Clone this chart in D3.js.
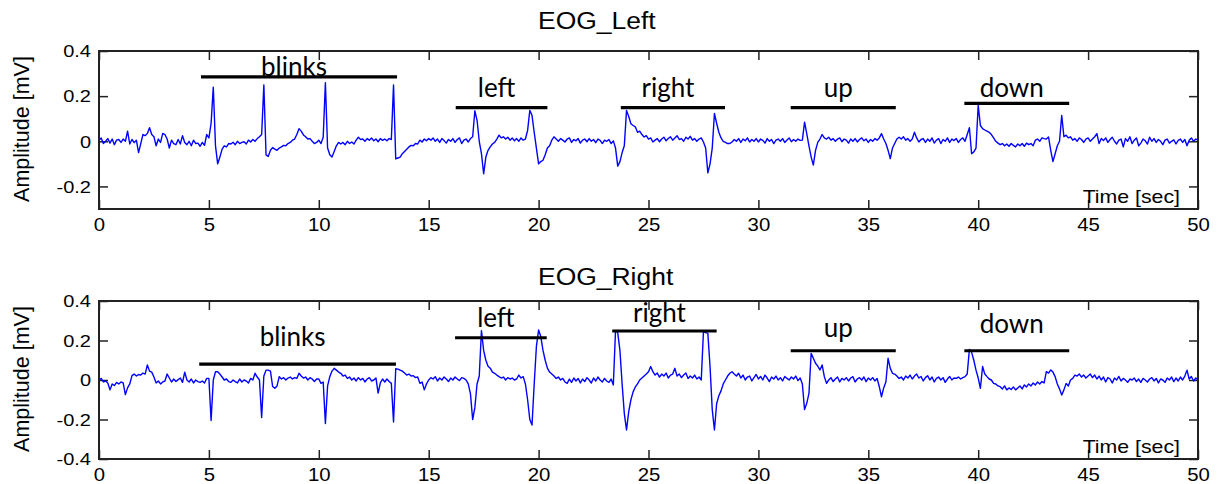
<!DOCTYPE html>
<html>
<head>
<meta charset="utf-8">
<script src="https://cdn.jsdelivr.net/npm/d3@7"></script>
<style>
  html, body { margin: 0; padding: 0; background: #fff; }
  svg { display: block; }
</style>
</head>
<body>
<svg id="chart" width="1219" height="484"></svg>
<script>
// Recording sampled every 0.1 s, 0–50 s (amplitudes in mV)
const sampleStep = 0.1;

const eogLeft = [
  0.005, 0.015, -0.01, 0.0, 0.012, -0.008, 0.01, -0.015, 0.005, 0.008,
  -0.005, 0.01, 0.0, 0.045, -0.012, 0.008, -0.006, 0.005, -0.05, -0.01,
  0.03, 0.025, 0.035, 0.06, 0.03, 0.02, -0.02, 0.01, -0.005, 0.035,
  0.03, 0.01, -0.03, 0.005, -0.01, -0.015, 0.008, -0.012, 0.025, -0.005,
  -0.015, 0.0, -0.02, 0.005, -0.01, -0.008, -0.022, -0.005, -0.018, 0.03,
  0.015, 0.08, 0.24, -0.02, -0.10, -0.07, -0.035, -0.02, -0.025, -0.01,
  -0.012, -0.004, -0.015, 0.0, -0.01, -0.005, -0.002, -0.012, 0.005, -0.003,
  0.008, 0.0, 0.012, 0.02, 0.03, 0.25, -0.06, -0.067, -0.04, -0.028,
  -0.035, -0.04, -0.03, -0.025, -0.018, -0.02, -0.01, -0.005, 0.005, 0.01,
  0.03, 0.056, 0.045, 0.028, 0.02, 0.01, 0.012, 0.0, -0.01, -0.005,
  0.005, -0.01, 0.018, 0.26, -0.03, -0.06, -0.07, -0.045, -0.02, -0.005,
  -0.012, -0.005, -0.015, 0.0, -0.01, -0.003, -0.012, 0.005, 0.018, 0.008,
  0.01, 0.0, 0.012, 0.005, 0.015, 0.002, 0.01, -0.002, 0.012, 0.004,
  0.01, 0.002, 0.012, 0.008, 0.25, -0.078, -0.074, -0.07, -0.055, -0.045,
  -0.035, -0.025, -0.018, -0.02, -0.01, -0.012, 0.005, -0.003, 0.01, 0.002,
  0.012, 0.005, 0.015, 0.0, 0.01, -0.005, 0.012, 0.003, -0.008, 0.008,
  0.0, 0.012, -0.005, 0.008, 0.015, -0.01, 0.005, 0.01, -0.003, 0.012,
  0.02, 0.135, 0.093, 0.0, -0.055, -0.144, -0.07, -0.04, -0.025, -0.012,
  -0.005, 0.01, 0.027, 0.015, 0.02, 0.01, 0.018, 0.005, 0.015, 0.002,
  0.012, 0.0, 0.015, 0.005, 0.01, 0.048, 0.137, 0.115, 0.04, -0.03,
  -0.1, -0.09, -0.084, -0.06, -0.03, -0.02, 0.005, 0.02, 0.01, 0.0,
  0.012, 0.005, -0.003, 0.01, 0.015, -0.005, 0.008, 0.002, 0.012, -0.008,
  0.005, 0.01, -0.002, 0.012, 0.0, 0.008, -0.006, 0.01, 0.004, -0.01,
  0.005, 0.0, 0.008, -0.01, 0.002, -0.03, -0.11, -0.09, -0.05, -0.02,
  0.137, 0.11, 0.078, 0.07, 0.064, 0.04, 0.045, 0.03, 0.019, 0.025,
  0.01, 0.015, -0.003, 0.005, 0.012, -0.002, 0.01, 0.018, 0.002, 0.012,
  0.02, 0.005, 0.015, 0.025, 0.008, 0.012, 0.0, 0.018, 0.01, 0.022,
  0.005, 0.012, 0.0, 0.01, 0.015, -0.003, -0.03, -0.14, -0.1, -0.03,
  0.123, 0.08, 0.04, 0.015, 0.0, -0.005, -0.01, -0.01, -0.003, 0.008,
  0.0, 0.012, -0.005, 0.01, 0.002, 0.015, -0.003, 0.008, 0.0, 0.012,
  -0.003, 0.01, 0.004, -0.008, 0.012, 0.0, 0.008, -0.01, 0.005, 0.01,
  0.0, 0.012, -0.005, 0.006, 0.015, -0.002, 0.008, 0.0, 0.01, 0.004,
  0.005, 0.085, 0.034, -0.02, -0.07, -0.105, -0.04, -0.005, 0.01, 0.03,
  0.015, 0.01, 0.018, 0.005, 0.012, 0.0, 0.01, 0.015, -0.002, 0.01,
  0.005, -0.008, 0.01, 0.0, 0.012, -0.003, 0.008, 0.015, 0.002, 0.01,
  -0.005, 0.008, 0.0, 0.012, 0.005, 0.015, 0.034, 0.01, -0.01, -0.04,
  -0.077, -0.03, -0.01, 0.01, 0.018, 0.01, 0.02, 0.005, 0.012, 0.0,
  0.01, 0.04, 0.015, -0.003, 0.008, 0.012, -0.005, 0.01, 0.0, 0.015,
  -0.008, 0.005, 0.012, -0.01, 0.008, 0.0, 0.015, -0.005, 0.01, 0.003,
  0.012, -0.005, 0.008, 0.015, 0.0, 0.03, 0.06, -0.055, -0.047, -0.03,
  0.16, 0.07, 0.056, 0.05, 0.045, 0.04, 0.03, 0.015, 0.0, -0.008,
  -0.015, -0.01, -0.02, -0.012, -0.022, -0.01, -0.018, -0.025, -0.012, -0.02,
  -0.01, -0.022, -0.008, -0.015, -0.01, -0.02, 0.005, 0.01, 0.0, 0.015,
  0.012, 0.01, 0.019, -0.04, -0.09, -0.055, -0.02, 0.0, 0.115, 0.02,
  0.027, 0.015, 0.02, 0.005, 0.012, 0.0, 0.015, 0.008, -0.005, 0.01,
  0.015, 0.0, 0.01, 0.02, 0.034, -0.01, 0.012, 0.003, 0.015, -0.005,
  0.008, 0.018, 0.0, -0.012, 0.005, 0.01, -0.025, 0.012, 0.0, 0.02,
  -0.01, 0.005, 0.015, -0.02, -0.008, 0.01, 0.002, -0.012, 0.018, 0.0,
  0.012, -0.005, 0.008, 0.0, -0.015, 0.005, 0.01, -0.008, 0.0, 0.006,
  -0.012, 0.004, 0.01, -0.005, 0.008, -0.02, 0.005, 0.015, 0.0, 0.01,
  0.005
];

const eogRight = [
  0.0, 0.008, -0.01, -0.005, -0.015, -0.05, -0.02, -0.028, -0.012, -0.02,
  -0.01, -0.015, -0.074, -0.04, -0.02, 0.022, 0.03, 0.02, 0.028, 0.025,
  0.035, 0.03, 0.076, 0.045, 0.04, 0.015, -0.015, -0.005, -0.02, -0.01,
  -0.005, 0.03, 0.01, -0.01, 0.005, -0.008, 0.002, 0.01, -0.012, 0.04,
  0.0, -0.01, 0.005, -0.015, 0.0, -0.008, -0.012, -0.005, -0.015, 0.008,
  0.008, -0.205, 0.0, 0.042, 0.042, 0.03, 0.015, 0.0, 0.005, -0.008,
  -0.012, 0.0, -0.008, -0.015, 0.005, -0.01, 0.0, -0.005, -0.015, 0.008,
  0.0, 0.034, 0.015, 0.0, -0.19, 0.02, 0.05, 0.05, 0.045, -0.033,
  -0.042, -0.03, 0.017, 0.005, 0.012, 0.0, 0.01, 0.015, 0.005, 0.012,
  0.008, 0.034, 0.02, 0.01, 0.015, 0.0, 0.012, 0.005, -0.008, 0.005,
  0.005, -0.017, -0.01, -0.22, -0.03, 0.017, 0.045, 0.059, 0.05, 0.04,
  0.034, 0.02, 0.025, 0.008, 0.015, 0.0, 0.01, -0.005, 0.012, 0.0,
  0.008, -0.01, 0.005, 0.012, -0.005, 0.0, 0.01, -0.066, -0.015, 0.005,
  -0.01, 0.005, -0.008, -0.017, -0.213, 0.057, 0.055, 0.05, 0.045, 0.035,
  0.025, 0.03, 0.02, 0.022, 0.012, 0.015, -0.017, -0.01, -0.05, -0.02,
  0.0, 0.012, 0.005, 0.017, -0.005, 0.01, 0.0, 0.015, 0.005, -0.008,
  0.01, 0.0, 0.015, 0.005, -0.003, 0.012, 0.008, 0.0, -0.02, -0.07,
  -0.2, -0.14, -0.02, 0.02, 0.25, 0.15, 0.1, 0.07, 0.06, 0.04,
  0.034, 0.025, 0.017, 0.01, 0.015, 0.0, 0.012, 0.005, 0.01, 0.0,
  0.005, 0.025, 0.01, 0.017, -0.02, -0.1, -0.2, -0.228, -0.02, 0.17,
  0.253, 0.22, 0.15, 0.1, 0.06, 0.04, 0.03, 0.02, 0.008, 0.015,
  0.0, 0.008, -0.01, -0.017, 0.005, -0.012, 0.01, -0.005, 0.008, -0.015,
  0.005, -0.008, 0.012, 0.0, -0.015, 0.01, -0.005, 0.015, 0.0, -0.01,
  0.008, -0.005, -0.012, 0.005, -0.025, 0.25, 0.24, 0.15, -0.02, -0.17,
  -0.253, -0.16, -0.1, -0.06, -0.035, -0.02, 0.0, 0.01, 0.02, 0.03,
  0.042, 0.068, 0.042, 0.025, 0.035, 0.015, 0.03, 0.02, 0.035, 0.01,
  0.025, 0.03, 0.059, 0.02, 0.03, 0.012, 0.025, 0.035, 0.008, 0.02,
  0.01, 0.025, 0.005, 0.015, 0.0, 0.245, 0.24, 0.236, 0.068, -0.15,
  -0.253, -0.12, -0.08, -0.055, -0.02, 0.0, 0.02, 0.034, 0.042, 0.03,
  0.02, 0.034, 0.01, 0.025, 0.0, 0.015, 0.02, -0.005, 0.012, 0.028,
  0.005, 0.018, 0.0, 0.025, 0.01, -0.008, 0.015, 0.005, 0.02, 0.0,
  0.012, -0.005, 0.018, 0.008, 0.0, 0.015, 0.005, 0.02, -0.003, 0.01,
  -0.02, -0.15, -0.118, -0.068, 0.135, 0.11, 0.085, 0.07, 0.051, 0.076,
  0.017, -0.017, 0.0, 0.012, -0.008, 0.005, 0.015, -0.01, 0.008, 0.0,
  0.012, -0.005, 0.01, 0.017, -0.01, 0.005, 0.012, 0.0, 0.015, -0.008,
  0.01, 0.0, 0.012, -0.005, 0.008, -0.034, -0.085, -0.04, -0.01, 0.11,
  0.059, 0.034, 0.03, 0.02, 0.008, 0.015, 0.0, 0.02, 0.01, 0.025,
  0.005, 0.02, 0.03, 0.01, 0.018, -0.005, 0.012, 0.022, 0.0, 0.015,
  -0.01, 0.008, 0.015, 0.0, 0.012, -0.012, 0.005, 0.018, 0.0, 0.01,
  0.008, 0.015, 0.005, 0.012, 0.017, 0.03, 0.155, 0.14, 0.1, 0.05,
  0.01, -0.042, 0.068, 0.03, 0.017, 0.005, 0.0, -0.017, -0.02, -0.03,
  -0.034, -0.045, -0.03, -0.05, -0.04, -0.048, -0.035, -0.05, -0.04, -0.03,
  -0.045, -0.025, -0.035, -0.02, -0.03, -0.015, -0.025, -0.01, -0.02, -0.008,
  -0.015, 0.042, 0.035, 0.051, 0.04, 0.017, -0.02, -0.045, -0.076, -0.05,
  -0.017, -0.03, 0.0, 0.008, 0.025, 0.02, 0.03, 0.015, 0.025, 0.01,
  0.02, 0.03, 0.012, 0.025, 0.005, 0.02, 0.0, 0.015, -0.01, 0.012,
  0.005, -0.015, 0.01, 0.0, 0.018, -0.005, 0.008, 0.0, -0.012, 0.005,
  0.0, 0.01, -0.008, 0.005, -0.012, 0.008, 0.0, -0.01, 0.005, 0.012,
  -0.005, 0.008, -0.015, 0.005, 0.0, -0.012, 0.01, 0.0, 0.015, -0.008,
  0.01, -0.005, 0.015, 0.0, 0.02, 0.05, 0.005, 0.018, -0.005, 0.01,
  0.0
];

// Axis settings
const timeDomain = [0, 50];
const timeTicks = [0, 5, 10, 15, 20, 25, 30, 35, 40, 45, 50];
const leftAmpDomain = [-0.3, 0.4];
const leftAmpTicks = [-0.2, 0, 0.2, 0.4];
const rightAmpDomain = [-0.4, 0.4];
const rightAmpTicks = [-0.4, -0.2, 0, 0.2, 0.4];

// Eye-movement task periods (seconds) and where their markers sit (mV)
const eventNames = ["blinks", "left", "right", "up", "down"];
const leftEventStart = [4.64, 16.23, 23.74, 31.47, 39.37];
const leftEventEnd = [13.56, 20.40, 28.48, 36.25, 44.14];
const leftEventLevel = [0.285, 0.149, 0.149, 0.149, 0.168];
const leftLabelLevel = [0.288, 0.196, 0.196, 0.196, 0.196];
const rightEventStart = [4.56, 16.20, 23.35, 31.47, 39.37];
const rightEventEnd = [13.51, 20.37, 28.10, 36.25, 44.14];
const rightEventLevel = [0.08, 0.214, 0.248, 0.148, 0.148];
const rightLabelLevel = [0.172, 0.27, 0.295, 0.219, 0.24];

const panels = [
  { title: "EOG_Left", values: eogLeft, domain: leftAmpDomain, ticks: leftAmpTicks,
    top: 51, bottom: 209, titleY: 29,
    start: leftEventStart, end: leftEventEnd, level: leftEventLevel, labelLevel: leftLabelLevel },
  { title: "EOG_Right", values: eogRight, domain: rightAmpDomain, ticks: rightAmpTicks,
    top: 301, bottom: 459, titleY: 285,
    start: rightEventStart, end: rightEventEnd, level: rightEventLevel, labelLevel: rightLabelLevel }
];

const plotLeft = 99, plotRight = 1198;
const ink = "#222";
const svg = d3.select("#chart");

// widen text horizontally by a factor
function stretch(sel, factor) {
  sel.each(function () {
    const w = this.getComputedTextLength();
    d3.select(this).attr("textLength", w * factor).attr("lengthAdjust", "spacingAndGlyphs");
  });
}

const fmt = d => (d === 0 ? "0" : String(d));

panels.forEach((p, idx) => {
  const x = d3.scaleLinear().domain(timeDomain).range([plotLeft, plotRight]);
  const y = d3.scaleLinear().domain(p.domain).range([p.bottom, p.top]);
  const g = svg.append("g");

  // plot background
  g.append("rect")
    .attr("x", plotLeft).attr("y", p.top)
    .attr("width", plotRight - plotLeft).attr("height", p.bottom - p.top)
    .attr("fill", "#fff");

  // axes with inward ticks on all four sides
  const styleAxis = a => {
    a.select(".domain").remove();
    a.selectAll(".tick line").attr("stroke", ink).attr("stroke-width", 1.5);
    a.selectAll(".tick text").attr("fill", "#000").attr("font-family", "'Liberation Sans', Arial, sans-serif");
  };

  const xb = g.append("g").attr("transform", `translate(0,${p.bottom})`)
    .call(d3.axisBottom(x).tickValues(timeTicks).tickSize(-9).tickPadding(9).tickFormat(fmt));
  styleAxis(xb);
  xb.selectAll(".tick text").attr("font-size", 18.5);
  stretch(xb.selectAll(".tick text"), 1.1);

  const xt = g.append("g").attr("transform", `translate(0,${p.top})`)
    .call(d3.axisTop(x).tickValues(timeTicks).tickSize(-9).tickFormat(""));
  styleAxis(xt);

  const yl = g.append("g").attr("transform", `translate(${plotLeft},0)`)
    .call(d3.axisLeft(y).tickValues(p.ticks).tickSize(-9).tickPadding(8).tickFormat(fmt));
  styleAxis(yl);
  yl.selectAll(".tick text").attr("font-size", 16).attr("dy", "0.36em");
  stretch(yl.selectAll(".tick text"), 1.25);

  const yr = g.append("g").attr("transform", `translate(${plotRight},0)`)
    .call(d3.axisRight(y).tickValues(p.ticks).tickSize(-9).tickFormat(""));
  styleAxis(yr);

  // signal trace
  const clipId = "clip" + idx;
  svg.append("clipPath").attr("id", clipId).append("rect")
    .attr("x", plotLeft).attr("y", p.top)
    .attr("width", plotRight - plotLeft).attr("height", p.bottom - p.top);

  const line = d3.line()
    .x((d, i) => x(i * sampleStep))
    .y(d => y(d));

  g.append("path")
    .datum(p.values)
    .attr("clip-path", `url(#${clipId})`)
    .attr("fill", "none")
    .attr("stroke", "#0000ff")
    .attr("stroke-width", 1.4)
    .attr("stroke-linejoin", "round")
    .attr("d", line);

  // frame
  g.append("rect")
    .attr("x", plotLeft).attr("y", p.top)
    .attr("width", plotRight - plotLeft).attr("height", p.bottom - p.top)
    .attr("fill", "none").attr("stroke", ink).attr("stroke-width", 2);

  // task period markers
  const events = eventNames.map((name, i) => ({
    name, start: p.start[i], end: p.end[i], level: p.level[i], labelLevel: p.labelLevel[i]
  }));

  g.selectAll(".bar").data(events).join("line")
    .attr("x1", d => x(d.start)).attr("x2", d => x(d.end))
    .attr("y1", d => y(d.level)).attr("y2", d => y(d.level))
    .attr("stroke", "#000").attr("stroke-width", 3.2);

  g.selectAll(".evlabel").data(events).join("text")
    .attr("x", d => (x(d.start) + x(d.end)) / 2 - 5)
    .attr("y", d => y(d.labelLevel))
    .attr("text-anchor", "middle")
    .attr("font-family", "Lato, 'Open Sans', sans-serif")
    .attr("font-size", 26)
    .attr("fill", "#000")
    .text(d => d.name);

  // panel title
  const title = g.append("text")
    .attr("x", 538).attr("y", p.titleY)
    .attr("font-family", "'Liberation Sans', Arial, sans-serif")
    .attr("font-size", 23)
    .attr("fill", "#000")
    .text(p.title);
  stretch(title, 1.15);

  // x axis caption inside the frame
  const cap = g.append("text")
    .attr("x", 1180).attr("y", p.bottom - 6)
    .attr("text-anchor", "end")
    .attr("font-family", "'Liberation Sans', Arial, sans-serif")
    .attr("font-size", 19)
    .attr("fill", "#000")
    .text("Time [sec]");
  stretch(cap, 1.12);

  // y axis caption
  const cy = (p.top + p.bottom) / 2 - 1;
  g.append("text")
    .attr("transform", `translate(29,${cy}) rotate(-90)`)
    .attr("text-anchor", "middle")
    .attr("font-family", "'Liberation Sans', Arial, sans-serif")
    .attr("font-size", 21.5)
    .attr("fill", "#000")
    .text("Amplitude [mV]");
});
</script>
</body>
</html>
